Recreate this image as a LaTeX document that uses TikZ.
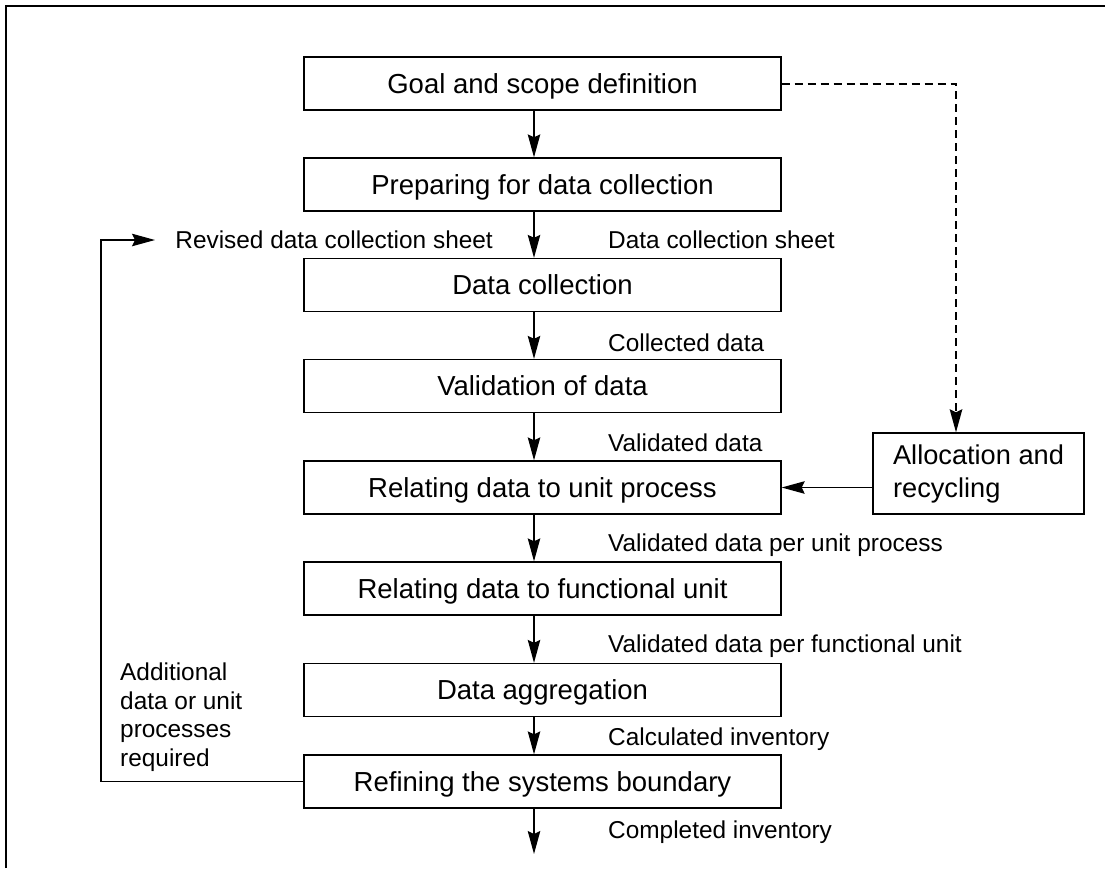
\documentclass[tikz,border=0pt]{standalone}
\usepackage{fontspec}
\setmainfont{Liberation Sans}
\usetikzlibrary{arrows.meta,calc}
\tikzset{
  boxfont/.style={font=\fontsize{27.5}{33}\selectfont},
  lblfont/.style={font=\fontsize{24.4}{28.5}\selectfont},
  stepbox/.style={draw, line width=1.3pt, minimum width=477pt, minimum height=53pt, inner sep=0pt, boxfont, text height=19.7pt, text depth=0pt},
  lbl/.style={inner sep=0pt, lblfont, anchor=base west},
  arr/.style={line width=1.3pt, -{Stealth[length=23pt,width=12.5pt,inset=3pt]}},
  dasharr/.style={line width=2pt, dash pattern=on 8pt off 5pt, -{Stealth[length=23pt,width=12.5pt,inset=3pt]}},
}
\begin{document}
\begin{tikzpicture}[x=1pt,y=-1pt]
\useasboundingbox (0,0) rectangle (1105,868);
% frame
\draw[line width=2.5pt] (6,868) -- (6,6) -- (1105,6);
% main boxes
\node[stepbox] (goal)   at (542.5,83.5)  {Goal and scope definition};
\node[stepbox] (prep)   at (542.5,184.5) {Preparing for data collection};
\node[stepbox] (coll)   at (542.5,285)   {Data collection};
\node[stepbox] (valid)  at (542.5,386)   {Validation of data};
\node[stepbox] (relu)   at (542.5,487.5) {Relating data to unit process};
\node[stepbox] (relf)   at (542.5,588.5) {Relating data to functional unit};
\node[stepbox] (agg)    at (542.5,690)   {Data aggregation};
\node[stepbox] (refine) at (542.5,781.5) {Refining the systems boundary};
% allocation box
\node[draw, line width=1.3pt, minimum width=211pt, minimum height=81pt, inner xsep=18pt, inner ysep=0pt,
      align=left, font=\fontsize{27.2}{33}\selectfont] (alloc) at (978.5,473.5) {Allocation and\\recycling};
% arrow axis
\coordinate (ax) at (534,0);
\coordinate (endpt) at (534,854);
\draw[arr] (goal.south -| ax) -- (prep.north -| ax);
\draw[arr] (prep.south -| ax) -- (coll.north -| ax);
\draw[arr] (coll.south -| ax) -- (valid.north -| ax);
\draw[arr] (valid.south -| ax) -- (relu.north -| ax);
\draw[arr] (relu.south -| ax) -- (relf.north -| ax);
\draw[arr] (relf.south -| ax) -- (agg.north -| ax);
\draw[arr] (agg.south -| ax) -- (refine.north -| ax);
\draw[arr] (refine.south -| ax) -- (endpt);
% labels
\node[lbl] (l1) at (608,248.7) {Data collection sheet};
\node[lbl] (l2) at (608,351.7) {Collected data};
\node[lbl] (l3) at (608,451.7) {Validated data};
\node[lbl] (l4) at (608,551.7) {Validated data per unit process};
\node[lbl] (l5) at (608,652.7) {Validated data per functional unit};
\node[lbl] (l6) at (608,745.7) {Calculated inventory};
\node[lbl] (l7) at (608,838.7) {Completed inventory};
\node[lbl, anchor=base east] (rev) at (493,248.7) {Revised data collection sheet};
\node[inner sep=0pt, lblfont, align=left, anchor=west] (addl) at (120,717) {Additional\\data or unit\\processes\\required};
% dashed connector
\draw[dasharr] (goal.east) -| ($(alloc.north)+(-22.5,0)$);
% allocation to relating
\draw[arr] (alloc.west |- relu.east) -- (relu.east);
% feedback loop
\coordinate (fb) at (101,781.5);
\coordinate (fbend) at (155,240);
\draw[arr] (refine.west) -- (fb) |- (fbend);
\end{tikzpicture}
\end{document}
